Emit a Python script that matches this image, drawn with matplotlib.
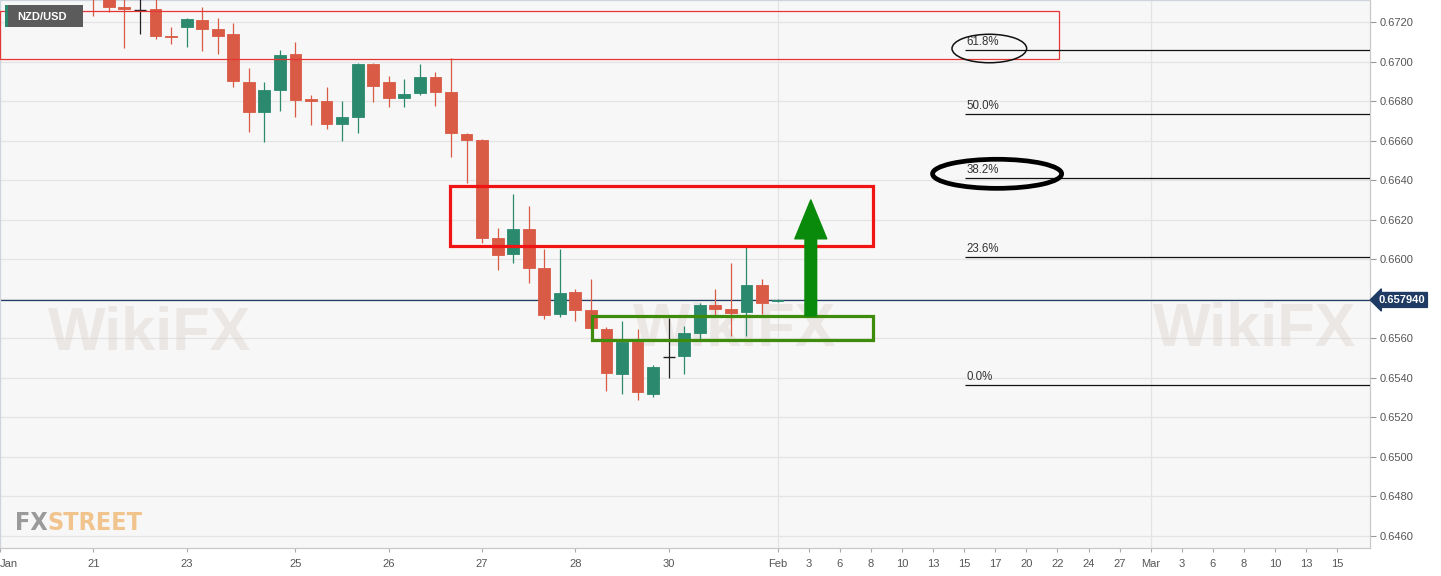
import matplotlib
matplotlib.use("Agg")
import matplotlib.pyplot as plt
import matplotlib.transforms as mtransforms
from matplotlib.patches import Rectangle, Ellipse

# ---------------- data ----------------
opens = [0.67380, 0.67350, 0.67272, 0.67261, 0.67264, 0.67128, 0.67175, 0.67212, 0.67163, 0.67138,
         0.66897, 0.66746, 0.66858, 0.67036, 0.66807, 0.66802, 0.66683, 0.66721, 0.66988, 0.66897,
         0.66817, 0.66839, 0.66920, 0.66844, 0.66632, 0.66603, 0.66106, 0.66024, 0.66152, 0.65954,
         0.65722, 0.65834, 0.65742, 0.65647, 0.65420, 0.65581, 0.65320, 0.65507, 0.65512, 0.65626,
         0.65769, 0.65750, 0.65732, 0.65868, 0.65789]
highs = [0.67420, 0.67380, 0.67350, 0.67330, 0.67330, 0.67175, 0.67220, 0.67274, 0.67219, 0.67197,
         0.66966, 0.66898, 0.67058, 0.67100, 0.66831, 0.66870, 0.66802, 0.66991, 0.66994, 0.66927,
         0.66913, 0.66986, 0.66946, 0.67016, 0.66637, 0.66607, 0.66157, 0.66329, 0.66269, 0.66050,
         0.66050, 0.65850, 0.65900, 0.65659, 0.65686, 0.65646, 0.65465, 0.65704, 0.65662, 0.65777,
         0.65848, 0.65980, 0.66064, 0.65899, 0.65797]
lows = [0.67230, 0.67251, 0.67069, 0.67139, 0.67114, 0.67089, 0.67075, 0.67055, 0.67037, 0.66870,
        0.66645, 0.66595, 0.66751, 0.66720, 0.66678, 0.66657, 0.66598, 0.66637, 0.66797, 0.66769,
        0.66769, 0.66831, 0.66775, 0.66516, 0.66384, 0.66081, 0.65946, 0.65981, 0.65878, 0.65696,
        0.65706, 0.65688, 0.65642, 0.65335, 0.65318, 0.65288, 0.65305, 0.65398, 0.65420, 0.65595,
        0.65718, 0.65612, 0.65612, 0.65722, 0.65786]
closes = [0.67330, 0.67274, 0.67268, 0.67261, 0.67129, 0.67124, 0.67214, 0.67166, 0.67129, 0.66900,
          0.66746, 0.66856, 0.67033, 0.66806, 0.66803, 0.66684, 0.66721, 0.66988, 0.66878, 0.66817,
          0.66836, 0.66920, 0.66846, 0.66637, 0.66603, 0.66109, 0.66022, 0.66152, 0.65954, 0.65718,
          0.65828, 0.65745, 0.65651, 0.65423, 0.65580, 0.65327, 0.65454, 0.65507, 0.65626, 0.65767,
          0.65750, 0.65730, 0.65868, 0.65780, 0.65794]

tick_pos = [-6, 0, 6, 13, 19, 25, 31, 37, 44, 46, 48, 50, 52, 54, 56, 58, 60, 62, 64, 66,
            68, 70, 72, 74, 76, 78, 80]
tick_labels = ['Jan', '21', '23', '25', '26', '27', '28', '30', 'Feb', '3', '6', '8', '10', '13',
               '15', '17', '20', '22', '24', '27', 'Mar', '3', '6', '8', '10', '13', '15']
month_ticks = [44, 68]

y_ticks = [0.6460, 0.6480, 0.6500, 0.6520, 0.6540, 0.6560, 0.6580, 0.6600, 0.6620, 0.6640,
           0.6660, 0.6680, 0.6700, 0.6720]

last_price = 0.657940
fib_low = 0.65364
fib_high = 0.68105
fib_ratios = [0.0, 0.236, 0.382, 0.5, 0.618]
fib_labels = ['0.0%', '23.6%', '38.2%', '50.0%', '61.8%']

top_zone = (0.67015, 0.67256)
res_zone = (0.66067, 0.66371)
sup_zone = (0.65592, 0.65713)
arrow_top = 0.66300

# ---------------- figure ----------------
plt.rcParams['font.family'] = ['Liberation Sans', 'DejaVu Sans']
W, H = 1441, 576
fig = plt.figure(figsize=(W / 100, H / 100), dpi=100, facecolor='white')
ax = fig.add_axes([0, 28 / H, 1370 / W, 548 / H])
ax.set_facecolor('#f7f7f7')
XMIN, XMAX = -6.0, 82.1
ax.set_xlim(XMIN, XMAX)
ax.set_ylim(0.645393, 0.673113)

# grid
for yv in y_ticks:
    ax.axhline(yv, color='#e4e4e4', lw=0.9, zorder=0)
for xv in month_ticks:
    ax.axvline(xv, color='#e4e4e4', lw=0.9, zorder=0)

# watermarks (faint)
wm_kw = dict(transform=ax.transAxes, fontsize=44, fontweight='bold', color='#d9cdc6',
             alpha=0.38, ha='center', va='center', zorder=0.5, clip_on=True)
for (wx, wy) in [(150 / 1370, 1 - 335 / 548), (735 / 1370, 1 - 330 / 548),
                 (1255 / 1370, 1 - 330 / 548)]:
    ax.text(wx, wy, 'WikiFX', **wm_kw)

# candles
up_c = '#2b8a6e'
dn_c = '#d95a45'
doji_c = '#222222'
bw = 0.76
minh = 0.00008
for i, (o, h, l, c) in enumerate(zip(opens, highs, lows, closes)):
    if c > o:
        col = up_c
    elif c < o:
        col = dn_c
    else:
        col = doji_c
    ax.vlines(i, l, h, color=col, lw=0.9, zorder=3)
    if col == doji_c:
        ax.hlines(o, i - bw / 2, i + bw / 2, color=col, lw=1.0, zorder=3)
    else:
        if abs(c - o) >= minh:
            bot, hgt = min(o, c), abs(c - o)
        else:
            bot, hgt = (o + c) / 2 - minh / 2, minh
        ax.bar(i, hgt, bottom=bot, width=bw, color=col, edgecolor=col, lw=0.6, zorder=3)

# last price line
ax.axhline(last_price, color='#1f3b63', lw=0.9, zorder=2)

# zones
ax.add_patch(Rectangle((XMIN, top_zone[0]), 62.1 - XMIN, top_zone[1] - top_zone[0],
                       fill=False, edgecolor='#e53535', lw=0.9, zorder=4))
ax.add_patch(Rectangle((22.94, res_zone[0]), 50.14 - 22.94, res_zone[1] - res_zone[0],
                       fill=False, edgecolor='#f01414', lw=2.3, zorder=4))
ax.add_patch(Rectangle((32.07, sup_zone[0]), 50.14 - 32.07, sup_zone[1] - sup_zone[0],
                       fill=False, edgecolor='#3f8c0c', lw=2.3, zorder=4))

# arrow
ax.annotate('', xy=(46.14, arrow_top), xytext=(46.14, sup_zone[1]),
            arrowprops=dict(arrowstyle='simple,head_length=28,head_width=23,tail_width=8.4',
                            mutation_scale=1, color='#0a8a0a', shrinkA=0, shrinkB=0),
            zorder=5)

# fibonacci
fib_x0 = 56.05
rng = fib_high - fib_low
for r, lab in zip(fib_ratios, fib_labels):
    lv = fib_low + r * rng
    ax.hlines(lv, fib_x0, XMAX, color='#111111', lw=0.9, zorder=4)
    ax.text(fib_x0 + 0.08, lv + 0.00009, lab, fontsize=8.3, color='#333333',
            ha='left', va='bottom', zorder=5)

lv618 = fib_low + 0.618 * rng
lv382 = fib_low + 0.382 * rng
ax.add_patch(Ellipse((57.62, lv618 + 0.00008), 4.8, 0.00144, fill=False,
                     edgecolor='#111111', lw=1.1, zorder=5))
ax.add_patch(Ellipse((58.12, lv382 + 0.00021), 8.3, 0.00147, fill=False,
                     edgecolor='#000000', lw=3.4, zorder=5))

# axes styling
ax.yaxis.tick_right()
ax.set_yticks(y_ticks)
ax.set_yticklabels(['' if abs(v - 0.6580) < 1e-9 else f'{v:.4f}' for v in y_ticks])
ax.tick_params(axis='y', which='both', length=4, color='#999999', labelsize=8,
               labelcolor='#555555', pad=3)
ax.set_xticks(tick_pos)
ax.set_xticklabels(tick_labels)
ax.tick_params(axis='x', length=3, color='#aaaaaa', labelsize=8, labelcolor='#555555', pad=5)
for lbl in ax.get_xticklabels():
    if lbl.get_text() == 'Jan':
        lbl.set_horizontalalignment('left')
for s in ['left', 'top']:
    ax.spines[s].set_color('#cfd3dc')
    ax.spines[s].set_linewidth(0.9)
for s in ['right', 'bottom']:
    ax.spines[s].set_color('#c8c8c8')
    ax.spines[s].set_linewidth(0.9)

# last price label
trans = mtransforms.blended_transform_factory(ax.transAxes, ax.transData)
ax.annotate(f'{last_price:.6f}', xy=(1.0, last_price), xycoords=trans,
            xytext=(6, 0), textcoords='offset points', ha='left', va='center',
            fontsize=8, fontweight='bold', color='white', annotation_clip=False,
            bbox=dict(boxstyle='larrow,pad=0.22', facecolor='#1f3b63', edgecolor='#1f3b63'))

# symbol label
ax.add_patch(Rectangle((5 / 1370, 1 - 27 / 548), 78 / 1370, 22 / 548, transform=ax.transAxes,
                       facecolor='#5b5b5b', edgecolor='none', zorder=6))
ax.add_patch(Rectangle((5 / 1370, 1 - 27 / 548), 2.5 / 1370, 22 / 548, transform=ax.transAxes,
                       facecolor='#2b8a6e', edgecolor='none', zorder=7))
ax.text(17 / 1370, 1 - 16.5 / 548, 'NZD/USD', transform=ax.transAxes, fontsize=8,
        fontweight='bold', color='white', ha='left', va='center', zorder=8)

# FXSTREET logo
logo_fam = ['DejaVu Sans']
t1 = ax.text(15 / 1370, 18 / 548, 'FX', transform=ax.transAxes, fontsize=18,
             fontweight='bold', fontstretch='condensed', color='#9a9a9a', ha='left',
             va='baseline', zorder=6, family=logo_fam)
ax.annotate('STREET', xy=(1, 0), xycoords=t1, xytext=(0, 0), textcoords='offset points',
            ha='left', va='bottom', fontsize=18, fontweight='bold', fontstretch='condensed',
            color='#f1c48d', family=logo_fam, zorder=6)

fig.savefig('out.png', dpi=100, facecolor='white')
